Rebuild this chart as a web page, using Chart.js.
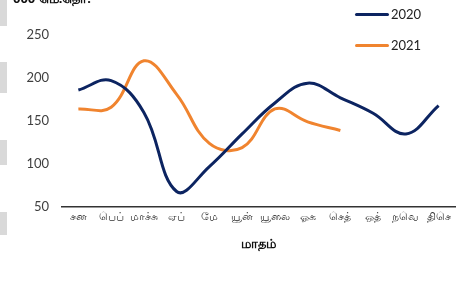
<!DOCTYPE html>
<html>
<head>
<meta charset="utf-8">
<script src="https://cdn.jsdelivr.net/npm/chart.js@4/dist/chart.umd.min.js"></script>
<style>
  html, body { margin: 0; padding: 0; background: #fff; }
  #wrap { position: relative; width: 460px; height: 292px; overflow: hidden; }
  .side { position: absolute; left: 0; width: 7px; background: #d9d9d9; }
  .unit { position: absolute; left: 13px; top: -11px; font: bold 13px "Noto Sans", "DejaVu Sans", sans-serif; color: #111; }
  .leg { position: absolute; left: 355px; font: 13px "Lato", "DejaVu Sans", sans-serif; color: #222; display: flex; align-items: center; }
  .leg i { display: inline-block; width: 34px; height: 3px; margin-right: 2px; border-radius: 2px; }
</style>
</head>
<body>
<div id="wrap">
  <canvas id="chart" width="460" height="292"></canvas>
  <div class="side" style="top:0;height:26px"></div>
  <div class="side" style="top:62px;height:31px"></div>
  <div class="side" style="top:140px;height:25px"></div>
  <div class="side" style="top:212px;height:23px"></div>
  <div class="unit">000 மெ.தொ.</div>
  <div class="leg" style="top:6px"><i style="background:#0c2461"></i>2020</div>
  <div class="leg" style="top:37px"><i style="background:#f0842f"></i>2021</div>
</div>
<script>
// months (Tamil abbreviations)
const months = ['சன', 'பெப்', 'மாச்சு', 'ஏப்', 'மே', 'யூன்', 'யூலை', 'ஓக', 'செத்', 'ஒத்', 'நவெ', 'திசெ'];
const values2020 = [186, 197, 160, 68, 97, 135, 171, 194, 177, 159, 135, 168];
const values2021 = [164, 166, 220, 181, 124, 119, 164, 149, 139];
const yTicks = [50, 100, 150, 200, 250];

new Chart(document.getElementById('chart'), {
    type: 'line',
    data: {
        labels: months,
        datasets: [{
            label: '2020',
            data: values2020,
            borderColor: '#0c2461',
            borderWidth: 3,
            pointRadius: 0,
            tension: 0.4
        }, {
            label: '2021',
            data: values2021,
            borderColor: '#f0842f',
            borderWidth: 3,
            pointRadius: 0,
            tension: 0.4
        }]
    },
    options: {
        responsive: false,
        animation: false,
        layout: { padding: { top: 35, right: 5, bottom: 40, left: 0 } },
        plugins: { legend: { display: false }, tooltip: { enabled: false } },
        scales: {
            x: {
                offset: true,
                grid: { display: false, drawTicks: false },
                border: { display: true, color: '#333', width: 1.5 },
                ticks: { color: '#333', padding: 3, maxRotation: 0, autoSkip: false,
                    font: { size: 11, family: 'Noto Sans, DejaVu Sans, sans-serif' } },
                title: { display: true, text: 'மாதம்', color: '#111', padding: 0,
                    font: { size: 13, weight: 'bold', family: 'Noto Sans, DejaVu Sans, sans-serif' } },
                afterFit: function(scale) { scale.height = 45; }
            },
            y: {
                min: 50,
                max: 250,
                grid: { display: false, drawTicks: false },
                border: { display: false },
                afterBuildTicks: function(scale) { scale.ticks = yTicks.map(v => ({ value: v })); },
                ticks: { color: '#404040', padding: 13,
                    font: { size: 13, family: 'Lato, DejaVu Sans, sans-serif' } },
                afterFit: function(scale) { scale.width = 62; }
            }
        }
    }
});
</script>
</body>
</html>
